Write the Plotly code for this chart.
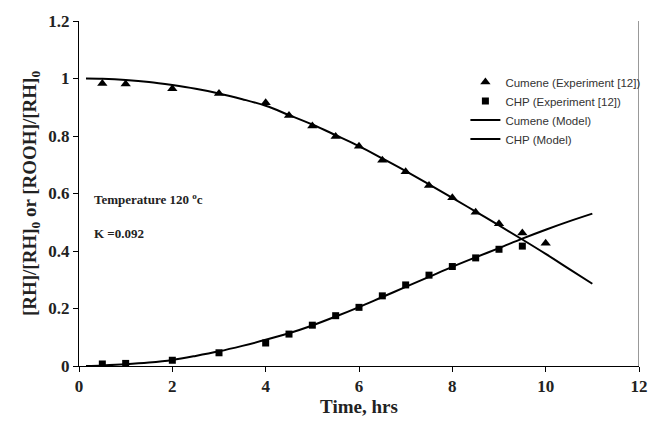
import plotly.graph_objects as go

# Experimental data
cumene_t = [0.5, 1, 2, 3, 4, 4.5, 5, 5.5, 6, 6.5, 7, 7.5, 8, 8.5, 9, 9.5, 10]
cumene_y = [0.983, 0.981, 0.964, 0.948, 0.916, 0.871, 0.835, 0.798, 0.764, 0.716,
            0.676, 0.628, 0.585, 0.535, 0.495, 0.463, 0.427]
chp_t = [0.5, 1, 2, 3, 4, 4.5, 5, 5.5, 6, 6.5, 7, 7.5, 8, 8.5, 9, 9.5]
chp_y = [0.007, 0.009, 0.020, 0.046, 0.080, 0.111, 0.142, 0.175, 0.204, 0.244,
         0.282, 0.316, 0.346, 0.376, 0.406, 0.417]

# Model curves
model_t = [0.15, 0.5, 1, 1.5, 2, 2.5, 3, 3.5, 4, 4.5, 5, 5.5, 6, 6.5, 7, 7.5, 8,
           8.5, 9, 9.5, 10, 10.5, 11]
cumene_model = [1.000, 0.999, 0.995, 0.988, 0.977, 0.964, 0.948, 0.928, 0.905, 0.873,
                0.840, 0.803, 0.765, 0.722, 0.678, 0.632, 0.585, 0.537, 0.489, 0.440,
                0.390, 0.338, 0.286]
chp_model = [0.000, 0.002, 0.006, 0.012, 0.021, 0.035, 0.051, 0.070, 0.091, 0.114,
             0.141, 0.172, 0.205, 0.240, 0.275, 0.310, 0.345, 0.378, 0.410, 0.443,
             0.474, 0.503, 0.530]

x_ticks = [0, 2, 4, 6, 8, 10, 12]
y_ticks = [0, 0.2, 0.4, 0.6, 0.8, 1, 1.2]
y_ticklabels = ["0", "0.2", "0.4", "0.6", "0.8", "1", "1.2"]

fig = go.Figure()
fig.add_trace(go.Scatter(x=cumene_t, y=cumene_y, mode="markers",
                         name="Cumene (Experiment [12])",
                         marker=dict(symbol="triangle-up", size=9, color="black")))
fig.add_trace(go.Scatter(x=chp_t, y=chp_y, mode="markers",
                         name="CHP (Experiment [12])",
                         marker=dict(symbol="square", size=7, color="black")))
fig.add_trace(go.Scatter(x=model_t, y=cumene_model, mode="lines",
                         name="Cumene (Model)", line=dict(color="black", width=2, shape="spline")))
fig.add_trace(go.Scatter(x=model_t, y=chp_model, mode="lines",
                         name="CHP (Model)", line=dict(color="black", width=2, shape="spline")))

serif = "Liberation Serif, Times New Roman, serif"

fig.update_layout(
    width=660, height=424,
    margin=dict(l=79, r=12, t=18, b=52),
    paper_bgcolor="white", plot_bgcolor="white",
    showlegend=True,
    legend=dict(x=0.69, y=0.865, xanchor="left", yanchor="top",
                font=dict(family="Liberation Sans, Arial, sans-serif", size=11.5, color="#333"),
                bgcolor="rgba(0,0,0,0)", tracegroupgap=0, itemwidth=30),
    xaxis=dict(range=[0, 12], tickvals=x_ticks, ticktext=["<b>%d</b>" % t for t in x_ticks],
               showgrid=False, zeroline=False,
               showline=True, linecolor="black", linewidth=1,
               ticks="outside", ticklen=5, tickcolor="black",
               tickfont=dict(family=serif, size=17, color="#222"),
               title=dict(text="<b>Time, hrs</b>", font=dict(family=serif, size=19, color="#222"),
                          standoff=2)),
    yaxis=dict(range=[0, 1.2], tickvals=y_ticks, ticktext=["<b>%s</b>" % t for t in y_ticklabels],
               showgrid=False, zeroline=False,
               showline=True, linecolor="black", linewidth=1,
               ticks="outside", ticklen=5, tickcolor="black",
               tickfont=dict(family=serif, size=17, color="#222"),
               title=dict(text="<b>[RH]/[RH]<sub>0</sub> or [ROOH]/[RH]<sub>0</sub></b>",
                          font=dict(family=serif, size=19, color="#222"), standoff=6)),
)

fig.add_shape(type="line", x0=12, x1=12, y0=0, y1=1.2, xref="x", yref="y",
              line=dict(color="#999", width=2))

fig.add_annotation(x=0.024, y=(372 - 201) / 354, xref="paper", yref="paper",
                   text="<b>Temperature 120 <sup>o</sup>c</b>", showarrow=False,
                   xanchor="left", yanchor="middle",
                   font=dict(family=serif, size=13, color="#222"))
fig.add_annotation(x=0.024, y=(372 - 236) / 354, xref="paper", yref="paper",
                   text="<b>K =0.092</b>", showarrow=False,
                   xanchor="left", yanchor="middle",
                   font=dict(family=serif, size=13, color="#222"))

fig.write_html("out.html")
